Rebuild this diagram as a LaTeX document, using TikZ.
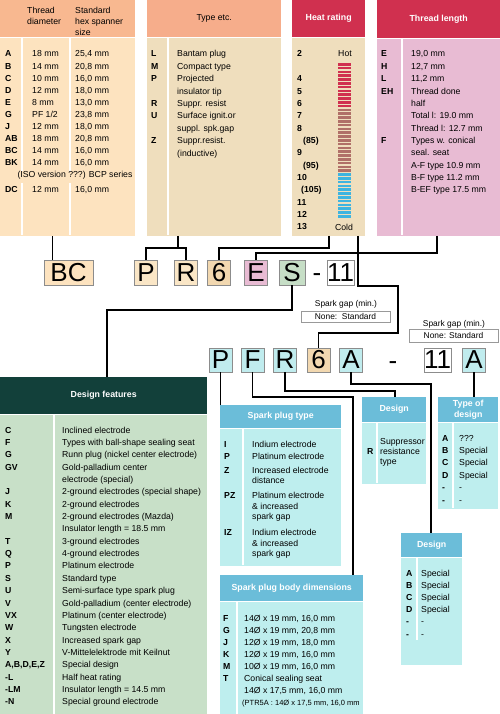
\documentclass[tikz,border=0pt]{standalone}
\usepackage{fontspec}
\setmainfont{Liberation Sans}
\usetikzlibrary{positioning, calc}

\definecolor{hdrA}{HTML}{F8B890}
\definecolor{bodyA}{HTML}{FDE3BF}
\definecolor{hdrB}{HTML}{F6AD8B}
\definecolor{bodyB}{HTML}{EFDEBD}
\definecolor{hotred}{HTML}{D0304F}
\definecolor{midbrown}{HTML}{B07068}
\definecolor{coldblue}{HTML}{3DB4E0}
\definecolor{pinkbody}{HTML}{E8BBD3}
\definecolor{darkteal}{HTML}{12403A}
\definecolor{greenbody}{HTML}{C8E0C8}
\definecolor{bluehdr}{HTML}{6BBDD9}
\definecolor{cyanbody}{HTML}{BEEEEE}
\definecolor{codeP}{HTML}{FAE6C6}
\definecolor{codeSix}{HTML}{F2D8B0}
\definecolor{codeS}{HTML}{C6DEC6}
\definecolor{codeCyan}{HTML}{C0ECEE}

\begin{document}
\begin{tikzpicture}[%
    x=1pt, y=-1pt,      % one unit = one pixel, y grows downward
    wire/.style={line width=1.9pt, black},          % connector lines
    hdr/.style={anchor=north west, inner sep=0pt, text=white, align=center,
        font=\fontsize{8.8}{10.5}\selectfont\bfseries},
    bdy/.style={anchor=north west, inner sep=0pt},
    sep/.style={white, line width=1.5pt},           % column divider
    txt/.style={anchor=base west, inner sep=0pt, font=\fontsize{8.7}{10}\selectfont},
    key/.style={anchor=base west, inner sep=0pt, font=\fontsize{8.7}{10}\selectfont\bfseries},
    code/.style={draw=black!45, line width=0.8pt, minimum width=23pt,
        minimum height=25pt, inner sep=0pt, font=\fontsize{26}{26}\selectfont},
    gapbox/.style={draw=black!40, fill=white, line width=0.8pt, inner sep=0pt,
        minimum width=89pt, font=\fontsize{8.4}{10}\selectfont},
]
    \useasboundingbox (0,0) rectangle (500,714);

    % ==========================================
    % 1. Upper panels
    % ==========================================
    % --- thread diameter ---
    \node[hdr, fill=hdrA, minimum width=135pt, minimum height=37pt] (tdh) at (0,0) {};
    \node[bdy, fill=bodyA, minimum width=135pt, minimum height=198pt] (tdb) at (tdh.south west) {};
    \draw[sep] (22,37) -- (22,171) (22,183) -- (22,235);
    \draw[sep] (70,37) -- (70,171) (70,183) -- (70,235);
    \node[anchor=north west, inner sep=0pt, align=left, font=\fontsize{8.7}{11}\selectfont]
        (tdt1) at (27,7) {Thread\\diameter};
    \node[anchor=north west, inner sep=0pt, align=left, font=\fontsize{8.7}{11}\selectfont]
        (tdt2) at (75,7) {Standard\\hex spanner\\size};
    \foreach \a/\b/\c [count=\i from 0] in {A/18 mm/{25,4 mm}, B/14 mm/{20,8 mm},
        C/10 mm/{16,0 mm}, D/12 mm/{18,0 mm}, E/8 mm/{13,0 mm}, G/{PF 1/2}/{23,8 mm},
        J/12 mm/{18,0 mm}, AB/18 mm/{20,8 mm}, BC/14 mm/{16,0 mm}, BK/14 mm/{16,0 mm}}
    {
        \node[key] (tdk\i) at (5,57+12.1*\i) {\a};
        \node[txt] (tdd\i) at (32,57+12.1*\i) {\b};
        \node[txt] (tds\i) at (75,57+12.1*\i) {\c};
    }
    \node[txt, anchor=base] (tdiso) at (75,178) {(ISO version ???) BCP series};
    \node[key] (tdk10) at (5,193) {DC};
    \node[txt] (tdd10) at (32,193) {12 mm};
    \node[txt] (tds10) at (75,193) {16,0 mm};

    % --- type etc. ---
    \node[hdr, fill=hdrB, text=black, font=\fontsize{8.7}{10}\selectfont,
        minimum width=134pt, minimum height=37pt] (teh) at (147,0) {Type etc.};
    \node[bdy, fill=bodyB, minimum width=134pt, minimum height=198pt] (teb) at (teh.south west) {};
    \draw[sep] (168,37) -- (168,235);
    \foreach \a/\b [count=\i from 0] in {L/Bantam plug, M/Compact type, P/Projected,
        /insulator tip, R/Suppr. resist, U/Surface ignit.or, /suppl. spk.gap,
        Z/Suppr.resist., /(inductive)}
    {
        \node[key] (tek\i) at (151,57+12.4*\i) {\a};
        \node[txt] (tet\i) at (177,57+12.4*\i) {\b};
    }

    % --- heat rating ---
    \node[hdr, fill=hotred, minimum width=73pt, minimum height=37pt] (hrh) at (292,0) {Heat rating};
    \node[bdy, fill=bodyB, minimum width=73pt, minimum height=198pt] (hrb) at (hrh.south west) {};
    \foreach \k/\t/\dx in {0/2/0, 2/4/0, 3/5/0, 4/6/0, 5/7/0, 6/8/0, 7/(85)/6, 8/9/0,
        9/(95)/6, 10/10/0, 11/(105)/4, 12/11/0, 13/12/0, 14/13/0}
    {
        \node[key] (hrk\k) at (297+\dx,57+12.35*\k) {\t};
    }
    \node[txt, anchor=base] (hot) at (345,57) {Hot};
    \node[txt, anchor=base] (cold) at (344,230) {Cold};
    \foreach \i in {0,...,11} \fill[hotred] (338,63+3.8*\i) rectangle ++(13,2.6);
    \foreach \i in {12,...,28} \fill[midbrown] (338,63+3.8*\i) rectangle ++(13,2.6);
    \foreach \i in {29,...,40} \fill[coldblue] (338,63+3.8*\i) rectangle ++(13,2.6);

    % --- thread length ---
    \node[hdr, fill=hotred, minimum width=123pt, minimum height=38pt] (tlh) at (377,0) {Thread length};
    \node[bdy, fill=pinkbody, minimum width=123pt, minimum height=197pt] (tlb) at (tlh.south west) {};
    \draw[sep] (402,38) -- (402,235);
    \foreach \a/\b [count=\i from 0] in {E/{19,0 mm}, H/{12,7 mm}, L/{11,2 mm},
        EH/Thread done, /half, /Total l: 19.0 mm, /Thread l: 12.7 mm,
        F/Types w. conical, /seal. seat, /A-F type 10.9 mm, /B-F type 11.2 mm,
        /B-EF type 17.5 mm}
    {
        \node[key] (tlk\i) at (381,57+12.36*\i) {\a};
        \node[txt] (tlt\i) at (411,57+12.36*\i) {\b};
    }

    % ==========================================
    % 2. Code boxes
    % ==========================================
    \node[code, fill=bodyA, minimum width=49pt] (bc) at (68.5,272.5) {BC};
    \node[code, fill=codeP] (p1) at (146,272.5) {P};
    \node[code, fill=codeP] (r1) at (186,272.5) {R};
    \node[code, fill=codeSix] (h1) at (219,272.5) {6};
    \node[code, fill=pinkbody] (e1) at (256,272.5) {E};
    \node[code, fill=codeS, minimum width=26pt] (s1) at (292,272.5) {S};
    \node[anchor=base, inner sep=0pt, font=\fontsize{26}{26}\selectfont] (d1) at (317,281.5) {-};
    \node[code, fill=white, minimum width=25pt] (n1) at (340.5,272.5) {11};

    \node[code, fill=codeCyan, minimum height=24pt] (p2) at (220.5,360) {P};
    \node[code, fill=codeCyan, minimum height=24pt] (f2) at (252.5,360) {F};
    \node[code, fill=codeCyan, minimum height=24pt] (r2) at (285,360) {R};
    \node[code, fill=codeSix, minimum height=24pt] (h2) at (318.5,360) {6};
    \node[code, fill=codeCyan, minimum height=24pt] (a2) at (351,360) {A};
    \node[anchor=base, inner sep=0pt, font=\fontsize{26}{26}\selectfont] (d2) at (393,369) {-};
    \node[code, fill=white, minimum height=24pt] (n2) at (437.5,360) {11};
    \node[code, fill=codeCyan, minimum height=24pt] (a3) at (474,360) {A};

    % spark gap notes
    \node[anchor=base, inner sep=0pt, font=\fontsize{8.4}{10}\selectfont] (sg1) at (346,306) {Spark gap (min.)};
    \node[gapbox, minimum height=11pt] (sb1) at (345.5,316.5) {None:\ \ Standard};
    \node[anchor=base, inner sep=0pt, font=\fontsize{8.4}{10}\selectfont] (sg2) at (454,326) {Spark gap (min.)};
    \node[gapbox, minimum height=13pt] (sb2) at (453.5,335.5) {None: Standard};

    % ==========================================
    % 3. Lower panels
    % ==========================================
    % --- design features ---
    \node[hdr, fill=darkteal, minimum width=207pt, minimum height=37pt] (dfh) at (0,377) {Design features};
    \node[bdy, fill=greenbody, minimum width=207pt, minimum height=300pt] (dfb) at (dfh.south west) {};
    \draw[sep] (54,414) -- (54,714);
    \foreach \a/\b [count=\i from 0] in {C/Inclined electrode,
        F/Types with ball-shape sealing seat, G/Runn plug (nickel center electrode),
        GV/Gold-palladium center, /electrode (special),
        J/2-ground electrodes (special shape), K/2-ground electrodes,
        M/2-ground electrodes (Mazda), /Insulator length = 18.5 mm,
        T/3-ground electrodes, Q/4-ground electrodes, P/Platinum electrode,
        S/Standard type, U/Semi-surface type spark plug,
        V/Gold-palladium (center electrode), VX/Platinum (center electrode),
        W/Tungsten electrode, X/Increased spark gap, Y/V-Mittelelektrode mit Keilnut,
        {A,B,D,E,Z}/Special design, -L/Half heat rating,
        -LM/Insulator length = 14.5 mm, -N/Special ground electrode}
    {
        \node[key] (dfk\i) at (5,433+12.36*\i) {\a};
        \node[txt] (dft\i) at (62,433+12.36*\i) {\b};
    }

    % --- spark plug type ---
    \node[hdr, fill=bluehdr, minimum width=121pt, minimum height=23pt] (pth) at (220,405) {Spark plug type};
    \node[bdy, fill=cyanbody, minimum width=121pt, minimum height=137pt] (ptb) at (pth.south west) {};
    \draw[sep] (243,428) -- (243,565);
    \foreach \a/\b/\y in {I/Indium electrode/447, P/Platinum electrode/459,
        Z/Increased electrode/473, /distance/483, PZ/Platinum electrode/498,
        /\& increased/509, /spark gap/519, IZ/Indium electrode/535,
        /\& increased/546, /spark gap/556}
    {
        \node[key] (ptk\y) at (224,\y) {\a};
        \node[txt] (ptt\y) at (252,\y) {\b};
    }

    % --- spark plug body dimensions ---
    \node[hdr, fill=bluehdr, minimum width=143pt, minimum height=26pt] (bdh) at (220,575) {Spark plug body dimensions};
    \node[bdy, fill=cyanbody, minimum width=143pt, minimum height=113pt] (bdb) at (bdh.south west) {};
    \draw[sep] (237,601) -- (237,714);
    \foreach \a/\b [count=\i from 0] in {F/{14Ø x 19 mm, 16,0 mm}, G/{14Ø x 19 mm, 20,8 mm},
        J/{12Ø x 19 mm, 18,0 mm}, K/{12Ø x 19 mm, 16,0 mm}, M/{10Ø x 19 mm, 16,0 mm},
        T/Conical sealing seat, /{14Ø x 17,5 mm, 16,0 mm}}
    {
        \node[key] (bdk\i) at (223,621+12*\i) {\a};
        \node[txt] (bdt\i) at (244,621+12*\i) {\b};
    }
    \node[txt, font=\fontsize{7.5}{9}\selectfont] (bdt7) at (242,705) {(PTR5A : 14Ø x 17,5 mm, 16,0 mm};

    % --- design (R) ---
    \node[hdr, fill=bluehdr, minimum width=64pt, minimum height=25pt] (drh) at (362,397) {Design};
    \node[bdy, fill=cyanbody, minimum width=64pt, minimum height=61pt] (drb) at (drh.south west) {};
    \draw[sep] (377,422) -- (377,483);
    \node[key] (drk) at (367,454) {R};
    \node[txt] (drt1) at (380,444) {Suppressor};
    \node[txt] (drt2) at (380,454) {resistance};
    \node[txt] (drt3) at (380,464) {type};

    % --- type of design ---
    \node[hdr, fill=bluehdr, minimum width=60pt, minimum height=25pt] (ydh) at (438,397) {Type of\\design};
    \node[bdy, fill=cyanbody, minimum width=60pt, minimum height=86pt] (ydb) at (ydh.south west) {};
    \draw[sep] (453,422) -- (453,508);
    \foreach \a/\b [count=\i from 0] in {A/???, B/Special, C/Special, D/Special, -/-, -/-}
    {
        \node[key] (ydk\i) at (442,441+12.4*\i) {\a};
        \node[txt] (ydt\i) at (459,441+12.4*\i) {\b};
    }

    % --- design (lower) ---
    \node[hdr, fill=bluehdr, minimum width=61pt, minimum height=24pt] (dlh) at (401,533) {Design};
    \node[bdy, fill=cyanbody, minimum width=61pt, minimum height=107pt] (dlb) at (dlh.south west) {};
    \draw[sep] (417,557) -- (417,640);
    \foreach \a/\b [count=\i from 0] in {A/Special, B/Special, C/Special, D/Special, -/-, -/-}
    {
        \node[key] (dlk\i) at (406,576+12.2*\i) {\a};
        \node[txt] (dlt\i) at (421,576+12.2*\i) {\b};
    }

    % ==========================================
    % 4. Connectors
    % ==========================================
    \coordinate (j1) at (178,248);
    \coordinate (j2) at (329,248);
    \coordinate (j3) at (437,253);
    \coordinate (j4) at (358,286);
    \coordinate (j5) at (398,333);
    \coordinate (j6) at (107,310);
    \coordinate (j7) at (353,397);
    \coordinate (j8) at (395,391);
    \coordinate (j9) at (431,384);

    % BC <- thread diameter
    \draw[wire] ([xshift=-16pt]bc.north) -- ([xshift=-16pt]bc.north |- tdb.south);
    % P, R <- type etc.
    \draw[wire] (j1 |- teb.south) -- (j1);
    \draw[wire] (p1.north) |- (r1.north |- j1) -- (r1.north);
    % 6 <- heat rating
    \draw[wire] (j2 |- hrb.south) -- (j2) -| (h1.north);
    % E <- thread length
    \draw[wire] (j3 |- tlb.south) -- (j3) -| (e1.north);
    % second 6 <- heat rating
    \draw[wire] (j4 |- hrb.south) -- (j4) -| (j5) -| (h2.north);
    % S -> design features
    \draw[wire] (s1.south) |- (j6) -- (j6 |- dfh.north);
    % P -> spark plug type
    \draw[wire] (p2.south) -- (p2.south |- pth.north);
    % F -> body dimensions
    \draw[wire] (f2.south) |- (j7) -- (j7 |- bdh.north);
    % R -> design
    \draw[wire] (r2.south) |- (j8) -- (j8 |- drh.north);
    % A -> design (lower)
    \draw[wire] (a2.south) |- (j9) -- (j9 |- dlh.north);
    % A -> type of design
    \draw[wire] (a3.south) -- (a3.south |- ydh.north);

\end{tikzpicture}
\end{document}
